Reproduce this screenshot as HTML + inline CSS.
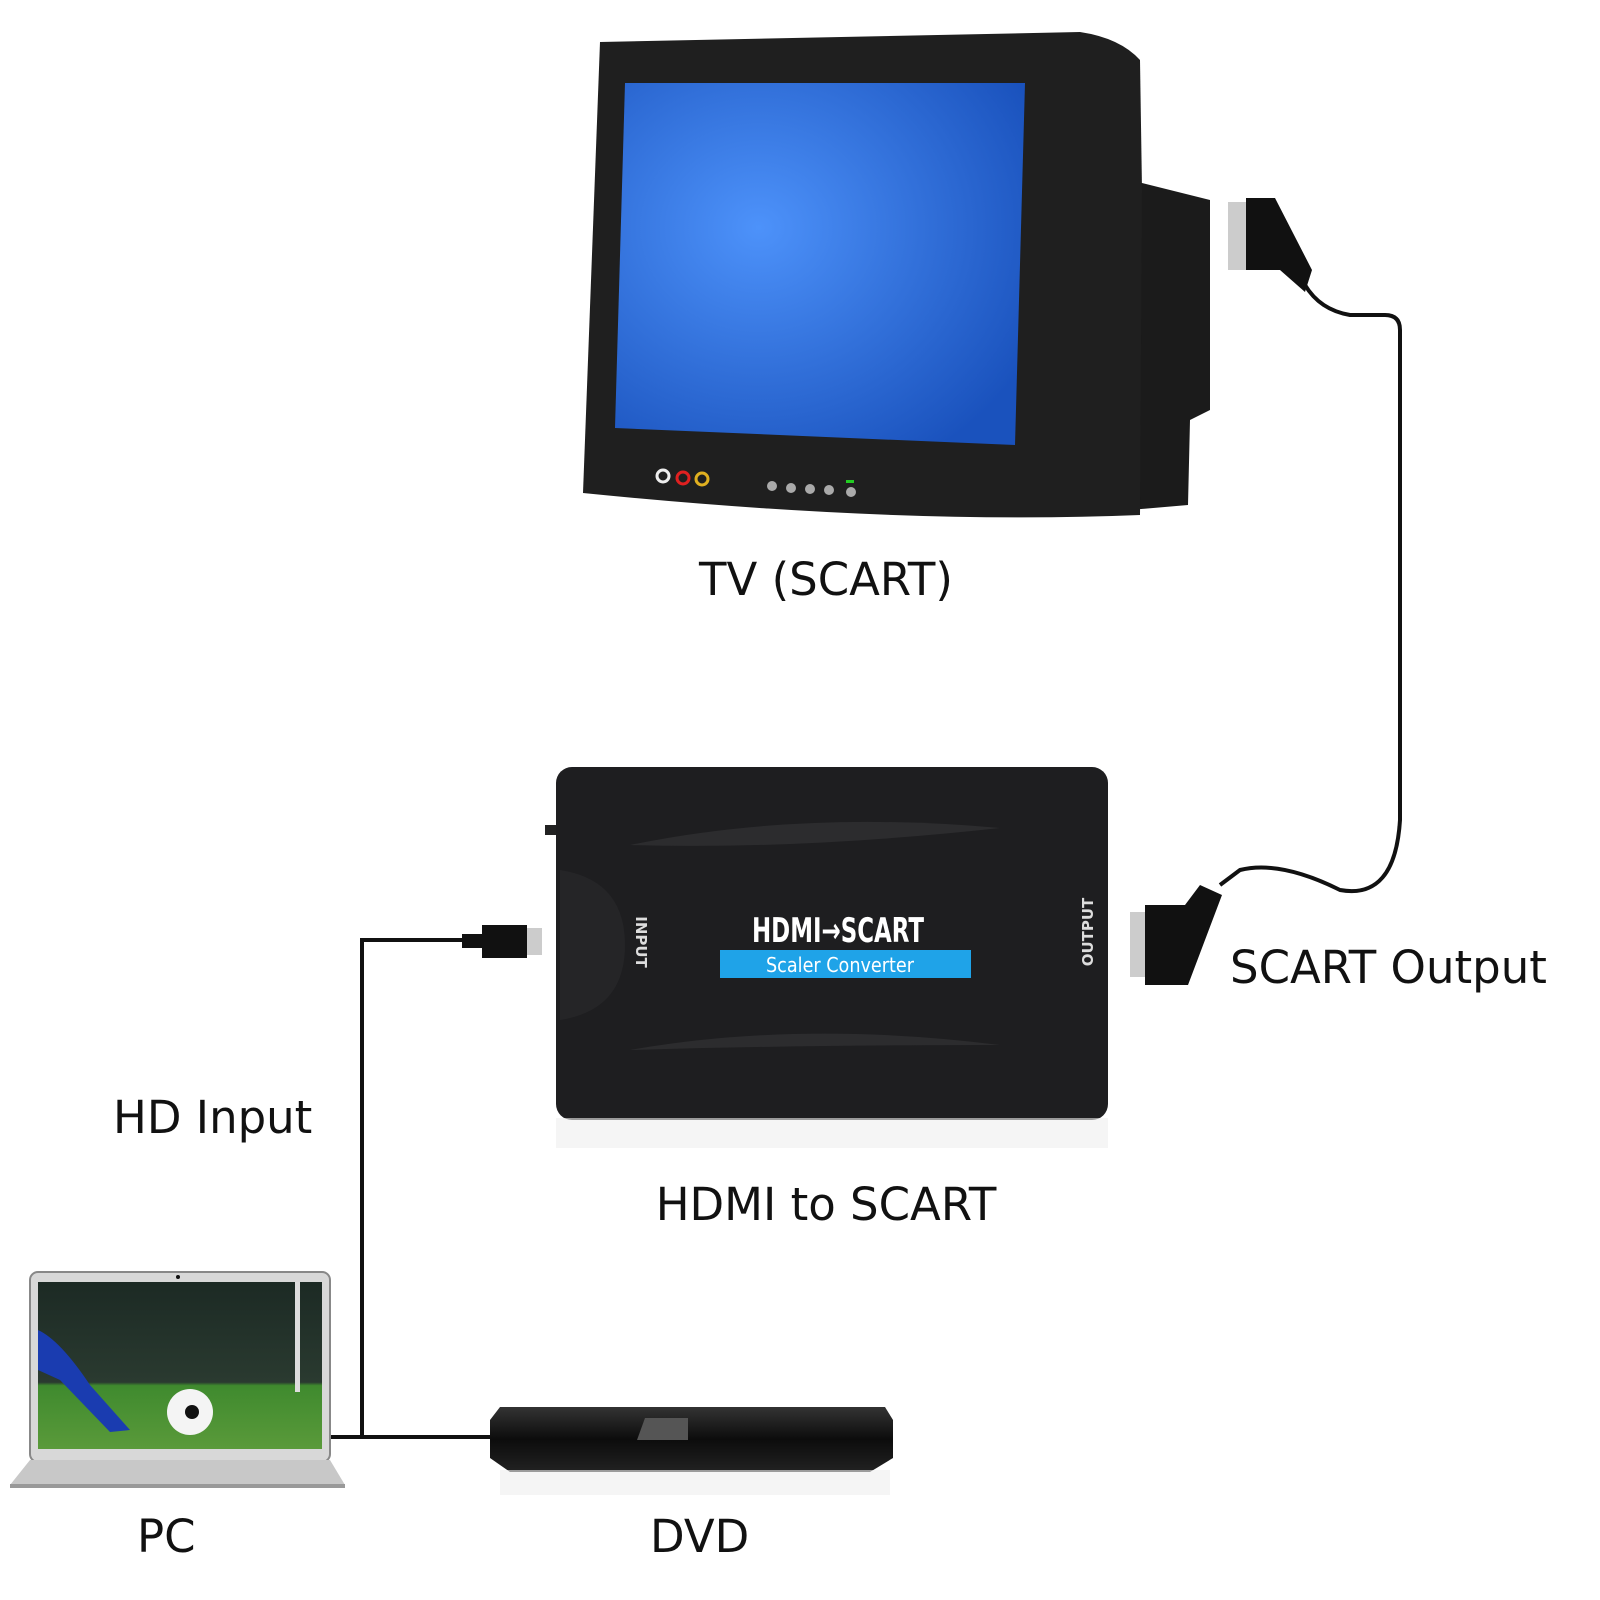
<!DOCTYPE html>
<html><head><meta charset="utf-8"><style>
html,body{margin:0;padding:0;background:#fff}
svg{display:block}
text{font-family:"DejaVu Sans","Liberation Sans",sans-serif}
</style></head><body>
<svg width="1600" height="1600" viewBox="0 0 1600 1600" xmlns="http://www.w3.org/2000/svg">
<defs>
<radialGradient id="scr" cx="0.35" cy="0.4" r="0.75">
<stop offset="0" stop-color="#4d92fa"/><stop offset="1" stop-color="#1a52bd"/>
</radialGradient>
<linearGradient id="field" x1="0" y1="0" x2="0" y2="1">
<stop offset="0" stop-color="#1c2a24"/><stop offset="0.6" stop-color="#2a3a30"/><stop offset="0.62" stop-color="#3f8a2e"/><stop offset="1" stop-color="#5a9a3a"/>
</linearGradient>
<linearGradient id="dvd" x1="0" y1="0" x2="0" y2="1">
<stop offset="0" stop-color="#333"/><stop offset="0.5" stop-color="#0c0c0c"/><stop offset="1" stop-color="#222"/>
</linearGradient>
</defs>
<!-- TV back box -->
<path d="M1130 180 L1210 200 L1210 410 L1190 420 L1188 505 L1130 510 Z" fill="#1b1b1b"/>
<!-- TV front -->
<path d="M600 42 L1080 32 Q1120 38 1140 60 L1142 190 L1140 515 Q900 525 583 493 Z" fill="#1f1f1f"/>
<path d="M625 83 L1025 83 L1015 445 L615 428 Z" fill="url(#scr)"/>
<circle cx="663" cy="476" r="6" fill="none" stroke="#eee" stroke-width="3"/>
<circle cx="683" cy="478" r="6" fill="none" stroke="#e02020" stroke-width="3"/>
<circle cx="702" cy="479" r="6" fill="none" stroke="#e0b020" stroke-width="3"/>
<g fill="#aaa"><circle cx="772" cy="486" r="5"/><circle cx="791" cy="488" r="5"/><circle cx="810" cy="489" r="5"/><circle cx="829" cy="490" r="5"/><circle cx="851" cy="492" r="5"/></g>
<rect x="846" y="480" width="8" height="3" fill="#2c2"/>
<!-- TV SCART plug -->
<rect x="1228" y="202" width="20" height="68" fill="#ccc"/>
<path d="M1246 198 L1275 198 L1312 270 L1305 292 L1280 270 L1246 270 Z" fill="#111"/>
<path d="M1305 285 Q1320 310 1350 315 L1385 315 Q1400 315 1400 330 L1400 820 Q1395 900 1340 890 Q1280 860 1240 870 L1220 885" fill="none" stroke="#111" stroke-width="4"/>
<!-- Output SCART plug -->
<rect x="1130" y="912" width="18" height="65" fill="#ccc"/>
<path d="M1145 905 L1185 905 L1200 885 L1222 895 L1188 985 L1145 985 Z" fill="#111"/>
<!-- Converter -->
<rect x="545" y="825" width="12" height="10" fill="#222"/>
<rect x="556" y="767" width="552" height="353" rx="16" fill="#1e1e20"/>
<path d="M630 845 Q800 810 1000 828 Q800 850 630 845 Z" fill="#2c2c2e"/>
<path d="M630 1050 Q800 1020 1000 1045 Q800 1045 630 1050 Z" fill="#2c2c2e"/>
<path d="M560 870 Q625 880 625 945 Q625 1010 560 1020 Z" fill="#252527"/>
<rect x="556" y="1118" width="552" height="30" fill="#eee" opacity="0.6"/>
<text x="838" y="942" text-anchor="middle" font-family="Liberation Sans Narrow,Liberation Sans,sans-serif" font-weight="bold" font-size="34" fill="#fff" textLength="172" lengthAdjust="spacingAndGlyphs">HDMI→SCART</text>
<rect x="720" y="950" width="251" height="28" fill="#1fa3e8"/>
<text x="840" y="972" text-anchor="middle" font-family="Liberation Sans,sans-serif" font-size="20" fill="#fff" textLength="148" lengthAdjust="spacingAndGlyphs">Scaler Converter</text>
<text transform="translate(636,942) rotate(90)" text-anchor="middle" font-weight="bold" font-size="15" fill="#ddd">INPUT</text>
<text transform="translate(1093,932) rotate(-90)" text-anchor="middle" font-weight="bold" font-size="15" fill="#ddd">OUTPUT</text>
<!-- HDMI plug and cable -->
<rect x="525" y="928" width="17" height="27" fill="#ccc"/>
<rect x="482" y="925" width="45" height="33" fill="#111"/>
<rect x="462" y="934" width="22" height="14" fill="#111"/>
<path d="M462 940 L362 940 L362 1437 M330 1437 L495 1437" fill="none" stroke="#111" stroke-width="4"/>
<!-- Laptop -->
<rect x="30" y="1272" width="300" height="190" rx="8" fill="#d8d8d8" stroke="#888" stroke-width="2"/>
<rect x="38" y="1282" width="284" height="167" fill="url(#field)"/>
<rect x="295" y="1282" width="5" height="110" fill="#ddd"/>
<path d="M38 1330 Q60 1340 90 1385 L130 1430 L110 1432 L60 1380 L38 1370 Z" fill="#1a3cb0"/>
<circle cx="190" cy="1412" r="23" fill="#f4f4f4"/><circle cx="192" cy="1412" r="7" fill="#111"/>
<circle cx="178" cy="1277" r="2" fill="#111"/>
<path d="M30 1460 L330 1460 L345 1485 L10 1485 Z" fill="#c8c8c8"/>
<rect x="10" y="1484" width="335" height="4" fill="#999"/>
<!-- DVD -->
<path d="M500 1407 L885 1407 L893 1420 L893 1458 L870 1472 L510 1472 L490 1458 L490 1420 Z" fill="url(#dvd)"/>
<path d="M645 1418 L688 1418 L688 1440 L637 1440 Z" fill="#555"/>
<rect x="500" y="1470" width="390" height="25" fill="#eee" opacity="0.6"/>
<!-- Labels -->
<g font-size="45" fill="#111">
<text x="826" y="595" text-anchor="middle">TV (SCART)</text>
<text x="1230" y="983">SCART Output</text>
<text x="113" y="1133">HD Input</text>
<text x="826" y="1220" text-anchor="middle">HDMI to SCART</text>
<text x="137" y="1552">PC</text>
<text x="650" y="1552">DVD</text>
</g>
</svg>
</body></html>
